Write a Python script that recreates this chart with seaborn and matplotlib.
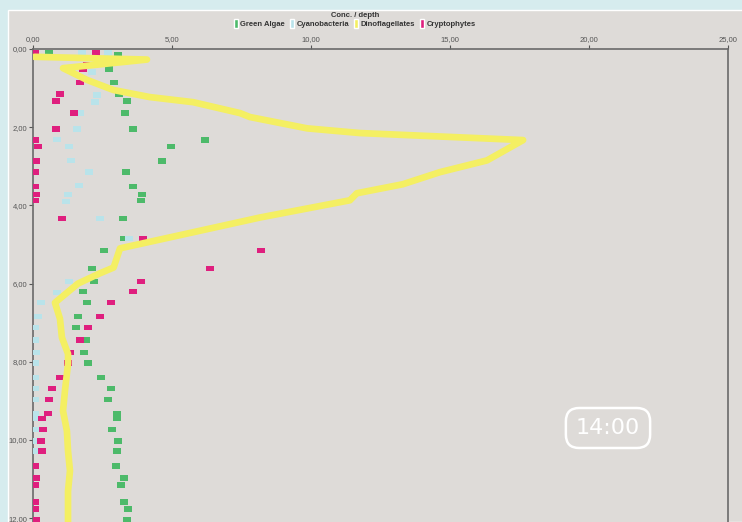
import matplotlib
matplotlib.use("Agg")
import matplotlib.pyplot as plt
from matplotlib.patches import Rectangle, Patch
from matplotlib.ticker import FuncFormatter
import seaborn as sns

# depth (m) of the sampled points, shared by green algae and cryptophytes
depth = [0.10, 0.15, 0.51, 0.85, 1.15, 1.33, 1.64, 2.05, 2.33, 2.49, 2.87, 3.15,
         3.51, 3.72, 3.87, 4.33, 4.85, 5.15, 5.62, 5.95, 6.20, 6.49, 6.85, 7.13,
         7.44, 7.77, 8.03, 8.41, 8.69, 8.97, 9.33, 9.46, 9.74, 10.03, 10.28,
         10.67, 10.97, 11.15, 11.59, 11.77, 12.03]

green_algae = [0.58, 3.06, 2.73, 2.90, 3.09, 3.38, 3.31, 3.60, 6.20, 4.96, 4.64, 3.35,
               3.60, 3.92, 3.88, 3.23, 3.27, 2.55, 2.12, 2.20, 1.80, 1.94, 1.62, 1.55,
               1.91, 1.83, 1.98, 2.45, 2.80, 2.70, 3.02, 3.02, 2.84, 3.06, 3.02,
               2.99, 3.27, 3.17, 3.27, 3.42, 3.38]

cryptophytes = [2.26, 0.07, 1.80, 1.69, 0.97, 0.83, 1.47, 0.83, 0.07, 0.18, 0.11, 0.07,
                0.07, 0.11, 0.07, 1.04, 3.96, 8.20, 6.37, 3.90, 3.60, 2.80, 2.41, 1.98,
                1.69, 1.33, 1.26, 0.97, 0.68, 0.58, 0.54, 0.32, 0.36, 0.29, 0.32,
                0.07, 0.11, 0.07, 0.07, 0.07, 0.11]

# extra cryptophyte points near the surface
crypto_extra_depth = [0.10, 0.39]
crypto_extra = [0.07, 1.95]

# cyanobacteria only down to ~10.3 m
cyano_depth = [0.10, 0.10, 0.59, 1.18, 1.36, 1.64, 2.05, 2.31, 2.50, 2.85, 3.15, 3.49,
               3.72, 3.90, 4.33, 4.85, 5.95, 6.23, 6.49, 6.85, 7.13, 7.44, 7.77, 8.03,
               8.41, 8.69, 8.97, 9.33, 9.46, 9.74, 10.03, 10.28]
cyanobacteria = [1.76, 2.70, 2.12, 2.30, 2.23, 1.69, 1.58, 0.86, 1.29, 1.37, 2.01, 1.65,
                 1.26, 1.19, 2.41, 3.45, 1.29, 0.86, 0.29, 0.18, 0.07, 0.07, 0.11, 0.07,
                 0.07, 0.07, 0.07, 0.07, 0.07, 0.07, 0.07, 0.07]

dino_depth = [0.20, 0.27, 0.49, 0.79, 0.97, 1.05, 1.23, 1.36, 1.64, 1.74, 2.03, 2.15,
              2.33, 2.85, 3.15, 3.46, 3.69, 3.87, 4.31, 5.10, 5.59, 5.74, 6.00, 6.49,
              6.90, 7.38, 7.80, 8.05, 8.74, 9.26, 9.77, 10.28, 10.79, 11.31, 12.00, 12.2]
dinoflagellates = [0.05, 4.10, 1.08, 1.94, 2.60, 2.90, 4.20, 5.76, 7.45, 7.80, 9.86, 11.76,
                   17.63, 16.33, 14.64, 13.30, 11.65, 11.40, 8.17, 3.13, 2.90, 2.40, 1.62, 0.79,
                   0.97, 1.04, 1.26, 1.26, 1.15, 1.08, 1.22, 1.26, 1.33, 1.26, 1.26, 1.26]

c_green = "#4dba6a"
c_cyan = "#b9e3ea"
c_yellow = "#f4ef62"
c_magenta = "#df1f7e"
c_panel = "#dedbd8"

sns.set_style("white")
plt.rcParams["font.family"] = ["Liberation Sans Narrow", "Liberation Sans", "DejaVu Sans"]

fig = plt.figure(figsize=(7.42, 5.22), dpi=100)
fig.patch.set_facecolor("#d6ecee")
fig.patches.append(Rectangle((8 / 742, 0), 1, 1 - 10 / 522, transform=fig.transFigure,
                             facecolor=c_panel, edgecolor="white", linewidth=1, zorder=-5))

ax = fig.add_axes([33 / 742, 0, (728 - 33) / 742, (522 - 49) / 522])
ax.set_facecolor(c_panel)
ax.set_zorder(1)

box = [(-1.5, -1), (1.5, -1), (1.5, 1), (-1.5, 1)]
msize = 34
sns.scatterplot(x=green_algae, y=depth, marker=box, s=msize, color=c_green,
                edgecolor="none", ax=ax, zorder=3)
sns.scatterplot(x=cyanobacteria, y=cyano_depth, marker=box, s=msize, color=c_cyan,
                edgecolor="none", ax=ax, zorder=3)
sns.scatterplot(x=cryptophytes + crypto_extra, y=depth + crypto_extra_depth, marker=box,
                s=msize, color=c_magenta, edgecolor="none", ax=ax, zorder=3)
sns.lineplot(x=dinoflagellates, y=dino_depth, sort=False, orient="y", color=c_yellow,
             linewidth=4.8, ax=ax, zorder=4,
             solid_capstyle="round", solid_joinstyle="round")

ax.set_xlim(0, 25)
ax.set_ylim(12.1, 0)
ax.xaxis.tick_top()
ax.set_xticks([0, 5, 10, 15, 20, 25])
ax.set_yticks([0, 2, 4, 6, 8, 10, 12])
fmt = FuncFormatter(lambda v, p: f"{v:.2f}".replace(".", ","))
ax.xaxis.set_major_formatter(fmt)
ax.yaxis.set_major_formatter(fmt)
ax.tick_params(axis="both", labelsize=5.5, colors="#555555", length=3, width=0.8,
               pad=1, direction="out")
ax.tick_params(axis="x", top=True, bottom=False)
ax.tick_params(axis="y", left=True)
for side in ["top", "left", "right"]:
    ax.spines[side].set_color("#6a6a6a")
    ax.spines[side].set_linewidth(1.2)
ax.spines["bottom"].set_visible(False)
ax.set_xlabel("")
ax.set_ylabel("")

handles = [Patch(facecolor=c_green, label="Green Algae"),
           Patch(facecolor=c_cyan, label="Cyanobacteria"),
           Patch(facecolor=c_yellow, label="Dinoflagellates"),
           Patch(facecolor=c_magenta, label="Cryptophytes")]
leg = fig.legend(handles=handles, ncol=4, loc="center", bbox_to_anchor=(355 / 742, 1 - 20 / 522),
                 frameon=False, fontsize=5.5, title="Conc. / depth", title_fontsize=5.5,
                 handlelength=0.45, handleheight=1.6, handletextpad=0.35, columnspacing=0.7,
                 borderpad=0, labelspacing=0)
for t in leg.get_texts():
    t.set_fontweight("bold")
    t.set_color("#333333")
leg.get_title().set_fontweight("bold")
leg.get_title().set_color("#333333")

fig.text(608 / 742, 1 - 428 / 522, "14:00", ha="center", va="center", fontsize=16,
         color="white", family="DejaVu Sans", zorder=10,
         bbox=dict(boxstyle="round,pad=0.45,rounding_size=0.6", facecolor="none",
                   edgecolor="white", linewidth=1.8))

fig.savefig("out.png", dpi=100, facecolor=fig.get_facecolor())
